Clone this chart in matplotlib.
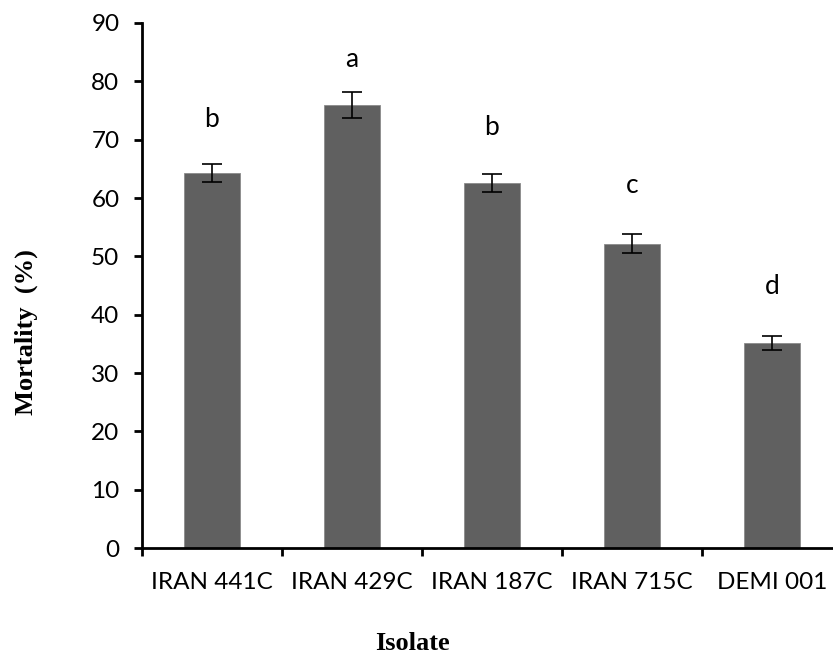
import matplotlib
matplotlib.use("Agg")
import matplotlib.pyplot as plt

categories = ["IRAN 441C", "IRAN 429C", "IRAN 187C", "IRAN 715C", "DEMI 001"]
mortality = [64.3, 75.9, 62.6, 52.2, 35.2]
errors = [1.5, 2.2, 1.5, 1.6, 1.2]
letters = ["b", "a", "b", "c", "d"]
letter_y = [73.4, 83.7, 72.0, 62.2, 44.8]
yticks = [0, 10, 20, 30, 40, 50, 60, 70, 80, 90]

fig = plt.figure(figsize=(8.33, 6.55), dpi=100)
ax = fig.add_axes([0.170, 0.163, 0.830, 0.802])

x = list(range(len(categories)))
ax.bar(x, mortality, width=0.4, color="#606060", edgecolor="#8a8a8a", linewidth=0.6,
       yerr=errors, error_kw=dict(ecolor="black", elinewidth=1.2, capsize=7, capthick=1.2), zorder=2)

tick_font = "Lato"
for xi, l, ly in zip(x, letters, letter_y):
    ax.text(xi, ly, l, ha="center", va="center", fontsize=19, family=tick_font)

ax.set_xlim(-0.5, 4.436)
ax.set_ylim(0, 90)
ax.set_yticks(yticks)
ax.set_yticklabels([str(v) for v in yticks], fontsize=17.5, family=tick_font)

ax.set_xticks([i - 0.5 for i in range(len(categories))])
ax.set_xticklabels([])
ax.set_xticks(x, minor=True)
ax.set_xticklabels(categories, minor=True, fontsize=17.5, family=tick_font)
ax.tick_params(axis="x", which="minor", length=0, pad=17)
ax.tick_params(axis="x", which="major", length=6, width=2, direction="out")
ax.tick_params(axis="y", length=6, width=2, direction="out", pad=10)

for s in ["top", "right"]:
    ax.spines[s].set_visible(False)
for s in ["left", "bottom"]:
    ax.spines[s].set_linewidth(2)

fig.text(26 / 833, 1 - 332 / 655, "Mortality  (%)", rotation=90, ha="center", va="center",
         fontsize=19, fontweight="bold", family="Liberation Serif")
fig.text(412 / 833, 1 - 644 / 655, "Isolate", ha="center", va="center",
         fontsize=19, fontweight="bold", family="Liberation Serif")

fig.savefig("out.png", dpi=100)
